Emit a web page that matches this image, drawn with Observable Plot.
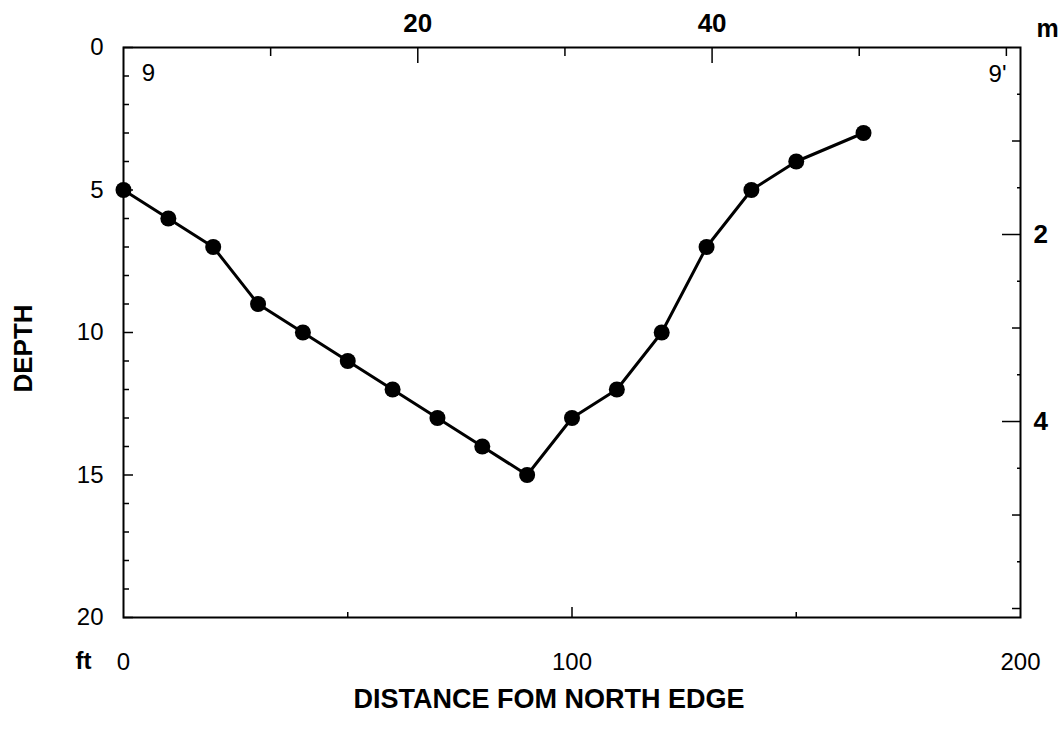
<!DOCTYPE html>
<html><head><meta charset="utf-8">
<script src="https://cdn.jsdelivr.net/npm/d3@7"></script>
<script src="https://cdn.jsdelivr.net/npm/@observablehq/plot@0.6"></script>
<style>body{margin:0;background:#fff;} #chart svg{display:block;}</style>
</head><body><div id="chart"></div>
<script>
const FT_PER_M = 3.28084;
// Profile: distance from north edge (ft) and depth (ft)
const distanceFt = [0, 10, 20, 30, 40, 50, 60, 70, 80, 90, 100, 110, 120, 130, 140, 150, 165];
const depthFt    = [5, 6, 7, 9, 10, 11, 12, 13, 14, 15, 13, 12, 10, 7, 5, 4, 3];

// Axis ticks
const bottomLabelsFt = [0, 100, 200];
const bottomMajorTicksFt = [100];
const bottomMinorTicksFt = [50, 150];
const leftLabelsFt = [0, 5, 10, 15, 20];
const leftMinorTicksFt = [1,2,3,4,6,7,8,9,11,12,13,14,16,17,18,19];
const topLabelsM = [20, 40];
const topMinorTicksM = [10, 30, 50, 60];
const rightLabelsM = [2, 4];
const rightMidTicksM = [1, 3, 5, 6];
const rightMinorTicksM = [0.5, 1.5, 2.5, 3.5, 4.5, 5.5];

const points = distanceFt.map((d, i) => ({distance: d, depth: depthFt[i]}));
const m2ft = m => m * FT_PER_M;
const FONT = "'Liberation Sans', Arial, Helvetica, sans-serif";
const note = {textAnchor: "middle", lineAnchor: "middle"};

const chart = Plot.plot({
  width: 1063,
  height: 732,
  marginLeft: 123,
  marginRight: 43,
  marginTop: 47,
  marginBottom: 115,
  style: {fontFamily: FONT, background: "#fff", color: "#000"},
  x: {domain: [0, 200]},
  y: {domain: [0, 20], reverse: true},
  marks: [
    // left axis (ft)
    Plot.axisY({ticks: leftMinorTicksFt, tickSize: -6, fill: null, strokeWidth: 1.5}),
    Plot.axisY({ticks: leftLabelsFt, tickSize: -10, fill: null, strokeWidth: 1.5}),
    Plot.axisY({ticks: leftLabelsFt, tickSize: 0, tickPadding: 20, fontSize: 24, label: null}),
    // bottom axis (ft)
    Plot.axisX({ticks: bottomMinorTicksFt, tickSize: -5, fill: null, strokeWidth: 1.5}),
    Plot.axisX({ticks: bottomMajorTicksFt, tickSize: -10, fill: null, strokeWidth: 1.5}),
    Plot.axisX({ticks: bottomLabelsFt, tickSize: 0, tickPadding: 35, fontSize: 24, label: null}),
    // top axis (m)
    Plot.axisX({anchor: "top", ticks: topMinorTicksM.map(m2ft), tickSize: -8, fill: null, strokeWidth: 1.5}),
    Plot.axisX({anchor: "top", ticks: topLabelsM.map(m2ft), tickSize: -15, fill: null, strokeWidth: 1.5}),
    Plot.axisX({anchor: "top", ticks: topLabelsM.map(m2ft), tickFormat: d => Math.round(d / FT_PER_M),
      tickSize: 0, tickPadding: 16, fontSize: 26, fontWeight: "bold", label: null}),
    // right axis (m)
    Plot.axisY({anchor: "right", ticks: rightMinorTicksM.map(m2ft), tickSize: -4, fill: null, strokeWidth: 1.5}),
    Plot.axisY({anchor: "right", ticks: rightMidTicksM.map(m2ft), tickSize: -9, fill: null, strokeWidth: 1.5}),
    Plot.axisY({anchor: "right", ticks: rightLabelsM.map(m2ft), tickSize: -19, fill: null, strokeWidth: 1.5}),
    Plot.axisY({anchor: "right", ticks: rightLabelsM.map(m2ft), tickFormat: d => Math.round(d / FT_PER_M),
      tickSize: 0, tickPadding: 13, fontSize: 26, fontWeight: "bold", label: null}),
    Plot.frame({strokeWidth: 2}),
    // unit labels & titles
    Plot.text(["ft"], {...note, frameAnchor: "bottom-left", dx: -40, dy: 44, fontSize: 24, fontWeight: "bold"}),
    Plot.text(["m"], {...note, frameAnchor: "top-right", dx: 27, dy: -19, fontSize: 25, fontWeight: "bold"}),
    Plot.text(["9"], {...note, frameAnchor: "top-left", dx: 25, dy: 26, fontSize: 24}),
    Plot.text(["9'"], {...note, frameAnchor: "top-right", dx: -23, dy: 27, fontSize: 24}),
    Plot.text(["DEPTH"], {...note, frameAnchor: "left", dx: -100, dy: 16, rotate: -90, fontSize: 26, fontWeight: "bold"}),
    Plot.text(["DISTANCE FOM NORTH EDGE"], {...note, frameAnchor: "bottom", dx: -23, dy: 82, fontSize: 27, fontWeight: "bold"}),
    // data
    Plot.line(points, {x: "distance", y: "depth", stroke: "#000", strokeWidth: 3}),
    Plot.dot(points, {x: "distance", y: "depth", r: 8, fill: "#000"})
  ]
});
document.getElementById("chart").appendChild(chart);
</script>
</body></html>
